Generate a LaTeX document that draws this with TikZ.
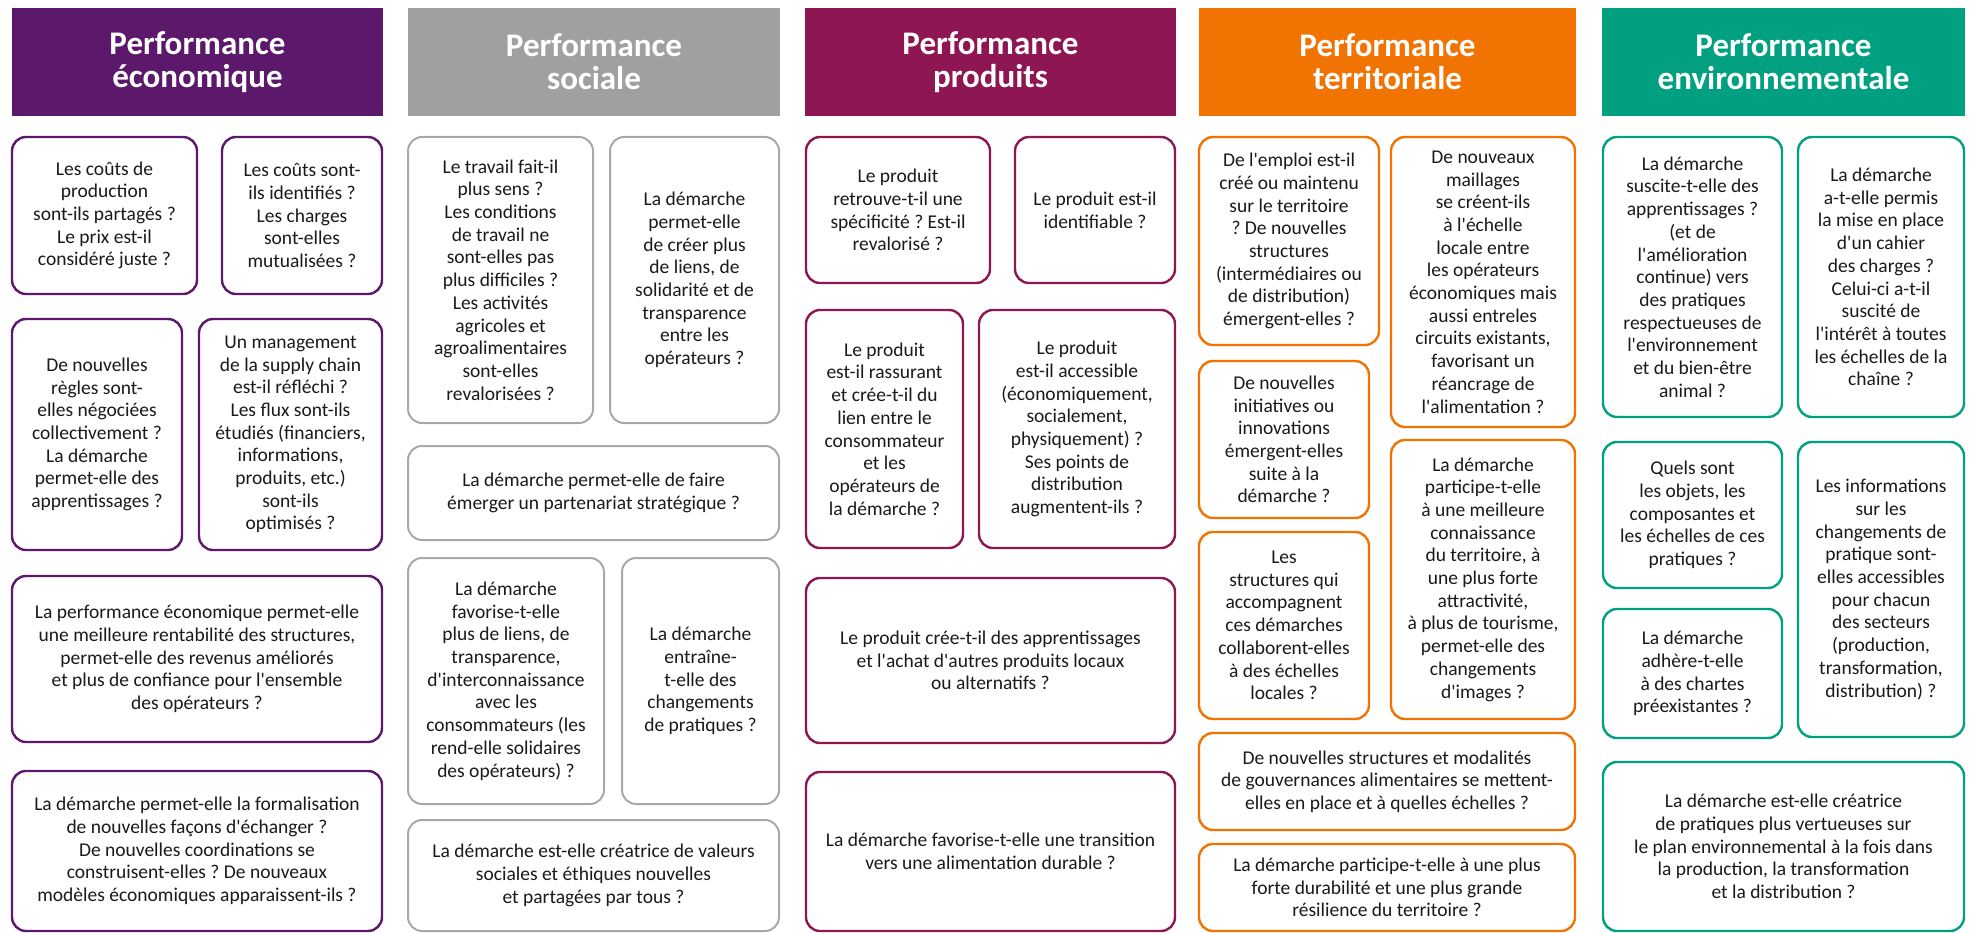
\documentclass[tikz,border=0pt]{standalone}
\usepackage{fontspec}
\setmainfont{Carlito}[Ligatures=TeXOff]
\frenchspacing
\definecolor{ceco}{RGB}{92,24,106}
\definecolor{csoc}{RGB}{160,160,160}
\definecolor{csocb}{RGB}{168,168,168}
\definecolor{cprod}{RGB}{142,23,83}
\definecolor{cterr}{RGB}{241,115,2}
\definecolor{cenv}{RGB}{0,160,128}
\definecolor{txt}{RGB}{26,26,26}
\newcommand\qbx[7]{\node[#1, minimum width={(#5)-(#3)}, minimum height={(#6)-(#4)}] (#2) at ({((#3)+(#5))/2},{((#4)+(#6))/2}) {#7};}
\begin{document}
\begin{tikzpicture}[x=1pt,y=-1pt,
  hdr/.style={fill=#1, draw=none, text=white, align=center, inner sep=0pt,
    font=\fontsize{33}{33}\selectfont\bfseries},
  qb/.style={draw=#1, line width=2.4pt, rounded corners=14pt, fill=white, align=center,
    inner sep=2pt, text=txt, font=\fontsize{19.5}{22.7}\selectfont},
  qg/.style={qb=csocb, line width=2pt}]
\useasboundingbox (0,0) rectangle (1970,933);
% headers
\qbx{hdr=ceco}{h1}{12}{8}{383}{116}{Performance\\économique}
\qbx{hdr=csoc}{h2}{408}{8}{780}{116}{Performance\\sociale}
\qbx{hdr=cprod}{h3}{805}{8}{1176}{116}{Performance\\produits}
\qbx{hdr=cterr}{h4}{1199}{8}{1576}{116}{Performance\\territoriale}
\qbx{hdr=cenv}{h5}{1602}{8}{1965}{116}{Performance\\environnementale}
% column 1
\qbx{qb=ceco}{a1}{12}{137}{197}{294}{Les coûts de\\production\\sont-ils partagés ?\\Le prix est-il\\considéré juste ?}
\qbx{qb=ceco}{a2}{222}{137}{382}{294}{Les coûts sont-\\ils identifiés ?\\Les charges\\sont-elles\\mutualisées ?}
\qbx{qb=ceco}{b1}{12}{319}{182}{550}{De nouvelles\\règles sont-\\elles négociées\\collectivement ?\\La démarche\\permet-elle des\\apprentissages ?}
\qbx{qb=ceco}{b2}{199}{319}{382}{550}{Un management\\de la supply chain\\est-il réfléchi ?\\Les flux sont-ils\\étudiés (financiers,\\informations,\\produits, etc.)\\sont-ils\\optimisés ?}
\qbx{qb=ceco}{c1}{12}{576}{382}{742}{La performance économique permet-elle\\une meilleure rentabilité des structures,\\permet-elle des revenus améliorés\\et plus de confiance pour l'ensemble\\des opérateurs ?}
\qbx{qb=ceco}{d1}{12}{771}{382}{931}{La démarche permet-elle la formalisation\\de nouvelles façons d'échanger ?\\De nouvelles coordinations se\\construisent-elles ? De nouveaux\\modèles économiques apparaissent-ils ?}
% column 2
\qbx{qg}{e1}{408}{137}{593}{423}{Le travail fait-il\\plus sens ?\\Les conditions\\de travail ne\\sont-elles pas\\plus difficiles ?\\Les activités\\agricoles et\\agroalimentaires\\sont-elles\\revalorisées ?}
\qbx{qg}{e2}{610}{137}{779}{423}{La démarche\\permet-elle\\de créer plus\\de liens, de\\solidarité et de\\transparence\\entre les\\opérateurs ?}
\qbx{qg}{f1}{408}{446}{779}{540}{La démarche permet-elle de faire\\émerger un partenariat stratégique ?}
\qbx{qg}{g1}{408}{558}{604}{804}{La démarche\\favorise-t-elle\\plus de liens, de\\transparence,\\d'interconnaissance\\avec les\\consommateurs (les\\rend-elle solidaires\\des opérateurs) ?}
\qbx{qg}{g2}{622}{558}{779}{804}{La démarche\\entraîne-\\t-elle des\\changements\\de pratiques ?}
\qbx{qg}{hh}{408}{820}{779}{931}{La démarche est-elle créatrice de valeurs\\sociales et éthiques nouvelles\\et partagées par tous ?}
% column 3
\qbx{qb=cprod}{i1}{806}{137}{990}{283}{Le produit\\retrouve-t-il une\\spécificité ? Est-il\\revalorisé ?}
\qbx{qb=cprod}{i2}{1015}{137}{1175}{283}{Le produit est-il\\identifiable ?}
\qbx{qb=cprod}{j1}{806}{310}{963}{548}{Le produit\\est-il rassurant\\et crée-t-il du\\lien entre le\\consommateur\\et les\\opérateurs de\\la démarche ?}
\qbx{qb=cprod}{j2}{979}{310}{1175}{548}{Le produit\\est-il accessible\\(économiquement,\\socialement,\\physiquement) ?\\Ses points de\\distribution\\augmentent-ils ?}
\qbx{qb=cprod}{k1}{806}{578}{1175}{743}{Le produit crée-t-il des apprentissages\\et l'achat d'autres produits locaux\\ou alternatifs ?}
\qbx{qb=cprod}{l1}{806}{772}{1175}{931}{La démarche favorise-t-elle une transition\\vers une alimentation durable ?}
% column 4
\qbx{qb=cterr}{m1}{1199}{137}{1379}{345}{De l'emploi est-il\\créé ou maintenu\\sur le territoire\\? De nouvelles\\structures\\(intermédiaires ou\\de distribution)\\émergent-elles ?}
\qbx{qb=cterr}{m2}{1391}{137}{1575}{427}{De nouveaux\\maillages\\se créent-ils\\à l'échelle\\locale entre\\les opérateurs\\économiques mais\\aussi entreles\\circuits existants,\\favorisant un\\réancrage de\\l'alimentation ?}
\qbx{qb=cterr}{n1}{1199}{361}{1369}{518}{De nouvelles\\initiatives ou\\innovations\\émergent-elles\\suite à la\\démarche ?}
\qbx{qb=cterr}{o1}{1199}{532}{1369}{719}{Les\\structures qui\\accompagnent\\ces démarches\\collaborent-elles\\à des échelles\\locales ?}
\qbx{qb=cterr}{n2}{1391}{440}{1575}{719}{La démarche\\participe-t-elle\\à une meilleure\\connaissance\\du territoire, à\\une plus forte\\attractivité,\\à plus de tourisme,\\permet-elle des\\changements\\d'images ?}
\qbx{qb=cterr}{p1}{1199}{733}{1575}{830}{De nouvelles structures et modalités\\de gouvernances alimentaires se mettent-\\elles en place et à quelles échelles ?}
\qbx{qb=cterr}{q1}{1199}{844}{1575}{931}{La démarche participe-t-elle à une plus\\forte durabilité et une plus grande\\résilience du territoire ?}
% column 5
\qbx{qb=cenv}{r1}{1603}{137}{1782}{417}{La démarche\\suscite-t-elle des\\apprentissages ?\\(et de\\l'amélioration\\continue) vers\\des pratiques\\respectueuses de\\l'environnement\\et du bien-être\\animal ?}
\qbx{qb=cenv}{r2}{1798}{137}{1964}{417}{La démarche\\a-t-elle permis\\la mise en place\\d'un cahier\\des charges ?\\Celui-ci a-t-il\\suscité de\\l'intérêt à toutes\\les échelles de la\\chaîne ?}
\qbx{qb=cenv}{s1}{1603}{442}{1782}{588}{Quels sont\\les objets, les\\composantes et\\les échelles de ces\\pratiques ?}
\qbx{qb=cenv}{t1}{1603}{609}{1782}{738}{La démarche\\adhère-t-elle\\à des chartes\\préexistantes ?}
\qbx{qb=cenv}{s2}{1798}{442}{1964}{737}{Les informations\\sur les\\changements de\\pratique sont-\\elles accessibles\\pour chacun\\des secteurs\\(production,\\transformation,\\distribution) ?}
\qbx{qb=cenv}{u1}{1603}{762}{1964}{931}{La démarche est-elle créatrice\\de pratiques plus vertueuses sur\\le plan environnemental à la fois dans\\la production, la transformation\\et la distribution ?}
\end{tikzpicture}
\end{document}
